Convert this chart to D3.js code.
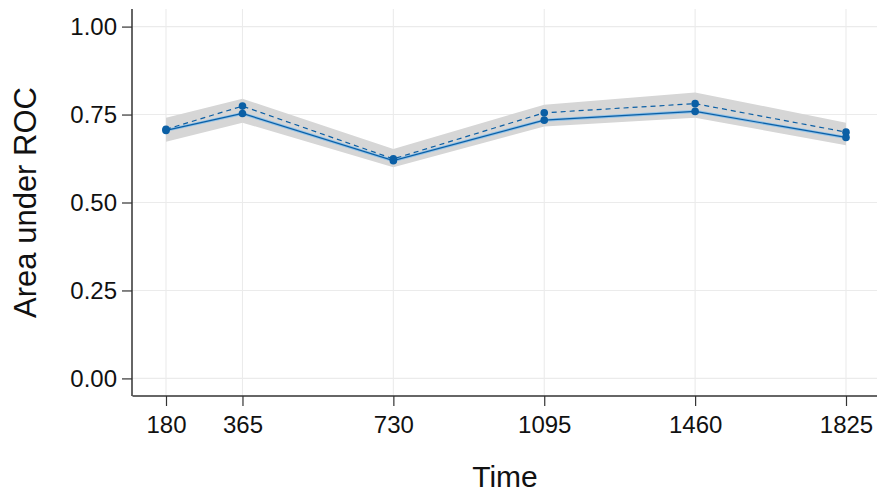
<!DOCTYPE html>
<html>
<head>
<meta charset="utf-8">
<script src="https://cdn.jsdelivr.net/npm/d3@7"></script>
<style>
  body { margin: 0; background: #fff; }
  text { font-family: "Liberation Sans", Arial, sans-serif; }
</style>
</head>
<body>
<div id="chart"></div>
<script>
// time points (days)
const times = [180, 365, 730, 1095, 1460, 1825];
// AUC estimates
const aucSolid = [0.705, 0.753, 0.619, 0.734, 0.759, 0.685];
const aucDashed = [0.708, 0.774, 0.624, 0.755, 0.781, 0.700];
// confidence band
const bandLow = [0.673, 0.727, 0.600, 0.716, 0.741, 0.663];
const bandHigh = [0.741, 0.795, 0.652, 0.778, 0.813, 0.727];
const yTicks = [0, 0.25, 0.5, 0.75, 1];

const width = 877, height = 493;
const margin = { top: 9, right: 0, bottom: 97, left: 132 };
const innerW = width - margin.left - margin.right;
const innerH = height - margin.top - margin.bottom;

const svg = d3.select("#chart").append("svg")
  .attr("width", width).attr("height", height);

const span = 1825 - 180;
const x = d3.scaleLinear()
  .domain([180 - span * 0.05, 1825 + span * 0.05])
  .range([0, 748]);
const y = d3.scaleLinear()
  .domain([-0.05, 1.05])
  .range([innerH, 0]);

const g = svg.append("g").attr("transform", `translate(${margin.left},${margin.top})`);

// grid
g.selectAll(".vgrid").data(times).enter().append("line")
  .attr("x1", d => x(d)).attr("x2", d => x(d))
  .attr("y1", 0).attr("y2", innerH)
  .attr("stroke", "#ebebeb").attr("stroke-width", 1.1);
g.selectAll(".hgrid").data(yTicks).enter().append("line")
  .attr("x1", 0).attr("x2", innerW)
  .attr("y1", d => y(d)).attr("y2", d => y(d))
  .attr("stroke", "#ebebeb").attr("stroke-width", 1.1);

const data = times.map((t, i) => ({ t, s: aucSolid[i], d: aucDashed[i], lo: bandLow[i], hi: bandHigh[i] }));

// band
g.append("path").datum(data)
  .attr("fill", "#d6d6d6")
  .attr("d", d3.area().x(d => x(d.t)).y0(d => y(d.lo)).y1(d => y(d.hi)));

const blue = "#0b5fa5";

g.append("path").datum(data)
  .attr("fill", "none").attr("stroke", "#8fc1e8").attr("stroke-width", 3)
  .attr("d", d3.line().x(d => x(d.t)).y(d => y(d.s)));
g.append("path").datum(data)
  .attr("fill", "none").attr("stroke", blue).attr("stroke-width", 1.2)
  .attr("d", d3.line().x(d => x(d.t)).y(d => y(d.s)));
g.append("path").datum(data)
  .attr("fill", "none").attr("stroke", blue).attr("stroke-width", 1.2)
  .attr("stroke-dasharray", "5,4")
  .attr("d", d3.line().x(d => x(d.t)).y(d => y(d.d)));

g.selectAll(".ps").data(data).enter().append("circle")
  .attr("cx", d => x(d.t)).attr("cy", d => y(d.s)).attr("r", 3.8).attr("fill", blue);
g.selectAll(".pd").data(data).enter().append("circle")
  .attr("cx", d => x(d.t)).attr("cy", d => y(d.d)).attr("r", 3.8).attr("fill", blue);

// axes
const xAxis = g.append("g")
  .attr("transform", `translate(0,${innerH})`)
  .call(d3.axisBottom(x).tickValues(times).tickSize(10).tickPadding(10).tickFormat(d3.format("d")));
xAxis.select(".domain").attr("d", `M0.5,0H${innerW}`).attr("stroke", "#333").attr("stroke-width", 1.5);
xAxis.selectAll(".tick line").attr("stroke", "#333").attr("stroke-width", 1.2);
xAxis.selectAll("text").attr("font-size", 24).attr("fill", "#111");

const yAxis = g.append("g")
  .call(d3.axisLeft(y).tickValues(yTicks).tickSize(10).tickPadding(5).tickFormat(d3.format(".2f")));
yAxis.select(".domain").attr("d", `M0,0V${innerH}`).attr("stroke", "#333").attr("stroke-width", 1.5);
yAxis.selectAll(".tick line").attr("stroke", "#333").attr("stroke-width", 1.2);
yAxis.selectAll("text").attr("font-size", 24).attr("fill", "#111");

// axis titles
svg.append("text")
  .attr("x", margin.left + x(1000)).attr("y", 487)
  .attr("text-anchor", "middle").attr("font-size", 30).attr("fill", "#111")
  .text("Time");
svg.append("text")
  .attr("transform", `translate(36,${margin.top + y(0.5)}) rotate(-90)`)
  .attr("text-anchor", "middle").attr("font-size", 31).attr("fill", "#111")
  .text("Area under ROC");
</script>
</body>
</html>
